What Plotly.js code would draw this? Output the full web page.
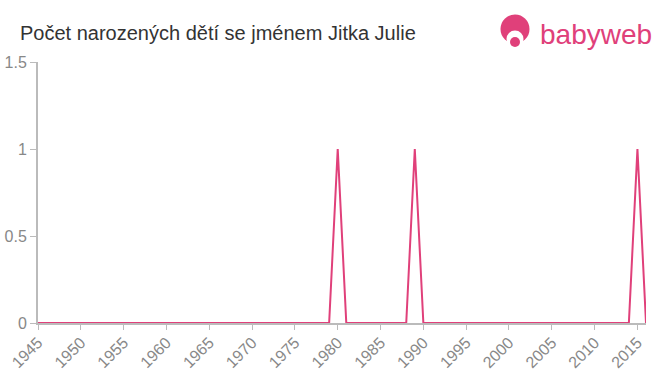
<!DOCTYPE html>
<html>
<head>
<meta charset="utf-8">
<script src="https://cdn.plot.ly/plotly-3.0.1.min.js"></script>
<style>html,body{margin:0;padding:0;background:#fff;}</style>
</head>
<body>
<div id="chart" style="width:660px;height:375px;"></div>
<script>
const years = [1945,1946,1947,1948,1949,1950,1951,1952,1953,1954,1955,1956,1957,1958,1959,1960,1961,1962,1963,1964,1965,1966,1967,1968,1969,1970,1971,1972,1973,1974,1975,1976,1977,1978,1979,1980,1981,1982,1983,1984,1985,1986,1987,1988,1989,1990,1991,1992,1993,1994,1995,1996,1997,1998,1999,2000,2001,2002,2003,2004,2005,2006,2007,2008,2009,2010,2011,2012,2013,2014,2015,2016];
const counts = [0,0,0,0,0,0,0,0,0,0,0,0,0,0,0,0,0,0,0,0,0,0,0,0,0,0,0,0,0,0,0,0,0,0,0,1,0,0,0,0,0,0,0,0,1,0,0,0,0,0,0,0,0,0,0,0,0,0,0,0,0,0,0,0,0,0,0,0,0,0,1,0];
const tickYears = [1945,1950,1955,1960,1965,1970,1975,1980,1985,1990,1995,2000,2005,2010,2015];
const yTicks = [0,0.5,1,1.5];
const yTickLabels = ['0','0.5','1','1.5'];
const titleText = 'Počet narozených dětí se jménem Jitka Julie';

const pink = '#e0407a';
// plot area: x 38..646 px, y 62..323 px
const px = v => (v - 38) / 608;
const py = v => (323 - v) / 261;
function circ(cx, cy, r, color) {
  return {type: 'circle', xref: 'paper', yref: 'paper', xsizemode: 'pixel', ysizemode: 'pixel',
    xanchor: px(cx), yanchor: py(cy), x0: -r, x1: r, y0: -r, y1: r,
    fillcolor: color, line: {width: 0}, layer: 'above'};
}
Plotly.newPlot('chart', [{
  x: years, y: counts, type: 'scatter', mode: 'lines',
  line: {color: pink, width: 2}, hoverinfo: 'skip', cliponaxis: false
}], {
  width: 660, height: 375,
  margin: {l: 38, r: 14, t: 62, b: 52},
  paper_bgcolor: '#fff', plot_bgcolor: '#fff',
  showlegend: false,
  font: {family: 'Liberation Sans, Arial, sans-serif', color: '#888'},
  title: {text: titleText, x: 20/660, xanchor: 'left', y: 1 - 33/375, yanchor: 'middle',
          font: {size: 20, color: '#333', family: 'Liberation Sans, Arial, sans-serif'}},
  xaxis: {range: [1945, 2016], tickvals: tickYears, ticktext: tickYears.map(String),
          tickangle: -45, showgrid: false, zeroline: false, showline: true,
          linecolor: '#bbb', linewidth: 2, ticks: 'outside', ticklen: 5, tickcolor: '#bbb',
          ticklabelstandoff: -3,
          tickfont: {size: 16, color: '#888'}, fixedrange: true},
  yaxis: {range: [0, 1.5], tickvals: yTicks, ticktext: yTickLabels,
          showgrid: false, zeroline: false, showline: true,
          linecolor: '#bbb', linewidth: 2, ticks: 'outside', ticklen: 6, tickcolor: '#bbb',
          tickfont: {size: 16, color: '#888'}, fixedrange: true},
  shapes: [
    circ(515, 29, 14.5, pink),
    circ(515, 39, 8.5, '#fff'),
    circ(515, 42, 5, pink)
  ],
  annotations: [
    {text: 'babyweb', xref: 'paper', yref: 'paper', x: px(538), y: py(34), xanchor: 'left', yanchor: 'middle',
     showarrow: false, font: {size: 28, color: pink, family: 'Liberation Sans, Arial, sans-serif'}}
  ]
}, {displayModeBar: false, staticPlot: true});
</script>
</body>
</html>
